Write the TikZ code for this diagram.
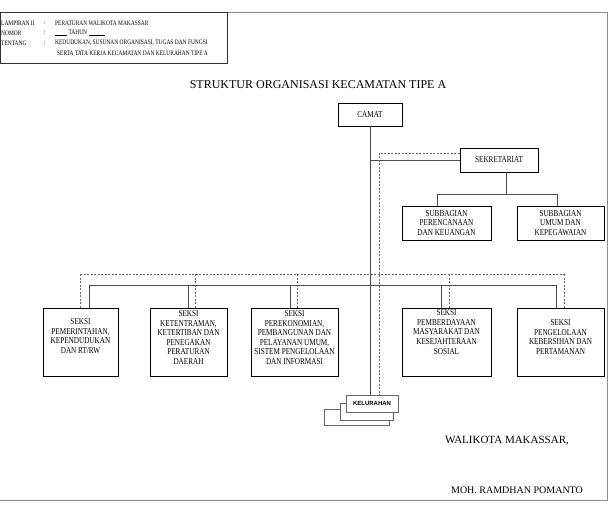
\documentclass[tikz,border=0pt]{standalone}
\usepackage{fontspec}
\setmainfont{Liberation Serif}
\newfontfamily\cnd[FakeStretch=0.8]{Liberation Serif}
\newfontfamily\lsans{Liberation Sans}
\begin{document}
\begin{tikzpicture}[x=1pt,y=-1pt,
  box/.style={draw=black, line width=0.9pt, fill=white, inner sep=0pt},
  conn/.style={draw=black!70, line width=0.7pt},
  dsh/.style={draw=black!60, line width=0.6pt, dash pattern=on 2pt off 1.5pt},
  txt/.style={font=\cnd\fontsize{9}{9.6}\selectfont, align=center, inner sep=0pt},
  lg/.style={font=\cnd\fontsize{6.8}{7}\selectfont, inner sep=0pt, anchor=west},
  kel/.style={draw=black!60, line width=0.6pt, fill=white, inner sep=0pt},
  frame/.style={draw=black!45, line width=0.8pt}]
\useasboundingbox (0,0) rectangle (609,512);
% page frame
\draw[frame] (228,12.5) -- (607,12.5) -- (607,500) -- (0,500);
% legend
\node[draw=black!80, line width=0.9pt, minimum width=227pt, minimum height=50.5pt, inner sep=0pt] (leg) at (114,38) {};
\node[lg] (l1) at (1,23) {LAMPIRAN II};
\node[lg] (l2) at (1,33) {NOMOR};
\node[lg] (l3) at (1,43) {TENTANG};
\node[lg] (c1) at (44,23) {:};
\node[lg] (c2) at (44,33) {:};
\node[lg] (c3) at (44,43) {:};
\node[lg] (v1) at (55,23) {PERATURAN WALIKOTA MAKASSAR};
\node[lg] (v2) at (55,33) {\underline{\hspace{12pt}} TAHUN \underline{\hspace{16pt}}};
\node[lg] (v3) at (55,43) {KEDUDUKAN, SUSUNAN ORGANISASI, TUGAS DAN FUNGSI};
\node[lg] (v4) at (57,53) {SERTA TATA KERJA KECAMATAN DAN KELURAHAN TIPE A};
% title
\node[font=\fontsize{12}{14}\selectfont, inner sep=0pt] (title) at (318,85) {STRUKTUR ORGANISASI KECAMATAN TIPE A};
% main boxes
\node[box, minimum width=64pt, minimum height=23pt, txt] (camat) at (370,114.5) {CAMAT};
\node[box, minimum width=78pt, minimum height=24pt, txt] (sek) at (499,160) {SEKRETARIAT};
\node[box, minimum width=89pt, minimum height=34pt, txt] (sub1) at (446.5,223) {SUBBAGIAN\\PERENCANAAN\\DAN KEUANGAN};
\node[box, minimum width=87pt, minimum height=34pt, txt] (sub2) at (560.5,223) {SUBBAGIAN\\UMUM DAN\\KEPEGAWAIAN};
% seksi boxes
\node[box, minimum width=75pt, minimum height=68pt] (s1) at (80.5,342) {};
\node[box, minimum width=77pt, minimum height=68pt] (s2) at (188.5,342) {};
\node[box, minimum width=87pt, minimum height=68pt] (s3) at (294.5,342) {};
\node[box, minimum width=89pt, minimum height=68pt] (s4) at (446.5,342) {};
\node[box, minimum width=87pt, minimum height=68pt] (s5) at (560.5,342) {};
\node[txt] (t1) at (80.5,336) {SEKSI\\PEMERINTAHAN,\\KEPENDUDUKAN\\DAN RT/RW};
\node[txt] (t2) at (188.5,337.5) {SEKSI\\KETENTRAMAN,\\KETERTIBAN DAN\\PENEGAKAN\\PERATURAN\\DAERAH};
\node[txt] (t3) at (294.5,337.5) {SEKSI\\PEREKONOMIAN,\\PEMBANGUNAN DAN\\PELAYANAN UMUM,\\SISTEM PENGELOLAAN\\DAN INFORMASI};
\node[txt] (t4) at (446.5,332) {SEKSI\\PEMBERDAYAAN\\MASYARAKAT DAN\\KESEJAHTERAAN\\SOSIAL};
\node[txt] (t5) at (560.5,337) {SEKSI\\PENGELOLAAN\\KEBERSIHAN DAN\\PERTAMANAN};
% kelurahan stack
\node[kel, minimum width=65pt, minimum height=16pt] (kelC) at (356.5,417) {};
\node[kel, minimum width=53pt, minimum height=17pt] (kelB) at (366.5,411.5) {};
\node[kel, minimum width=52pt, minimum height=17pt, font=\lsans\bfseries\fontsize{6}{7}\selectfont] (kelA) at (372,403.5) {KELURAHAN};
% connectors: camat line and dashed coordination line
\draw[conn] (camat.south) -- (camat.south |- kelA.north);
\coordinate (cs) at (camat.south |- sek.west);
\draw[conn] (cs) -- (sek.west);
\coordinate (d0) at (379,153);
\draw[dsh] (d0 -| sek.west) -- (d0) -- (d0 |- kelA.north);
% sekretariat to subbagian
\coordinate (sb) at (506,194);
\coordinate (sbl) at (437,194);
\coordinate (sbr) at (557,194);
\draw[conn] (sb |- sek.south) -- (sb);
\draw[conn] (sbl) -- (sbr);
\draw[conn] (sbl) -- (sbl |- sub1.north);
\draw[conn] (sbr) -- (sbr |- sub2.north);
% solid bus to seksi
\coordinate (b1) at (89,285);
\coordinate (b2) at (188,285);
\coordinate (b3) at (290,285);
\coordinate (b4) at (441,285);
\coordinate (b5) at (556,285);
\draw[conn] (b1) -- (b5);
\draw[conn] (b1) -- (b1 |- s1.north);
\draw[conn] (b2) -- (b2 |- s2.north);
\draw[conn] (b3) -- (b3 |- s3.north);
\draw[conn] (b4) -- (b4 |- s4.north);
\draw[conn] (b5) -- (b5 |- s5.north);
% dashed bus
\coordinate (e1) at (80,274);
\coordinate (e2) at (195,274);
\coordinate (e3) at (297,274);
\coordinate (e4) at (449,274);
\coordinate (e5) at (564,274);
\draw[dsh] (e1) -- (e5);
\draw[dsh] (e1) -- (e1 |- s1.north);
\draw[dsh] (e2) -- (e2 |- s2.north);
\draw[dsh] (e3) -- (e3 |- s3.north);
\draw[dsh] (e4) -- (e4 |- s4.north);
\draw[dsh] (e5) -- (e5 |- s5.north);
% signature
\node[font=\fontsize{11}{13}\selectfont, inner sep=0pt] (wk) at (507,441) {WALIKOTA MAKASSAR,};
\node[font=\fontsize{10}{12}\selectfont, inner sep=0pt] (nm) at (517,490) {MOH. RAMDHAN POMANTO};
\end{tikzpicture}
\end{document}
